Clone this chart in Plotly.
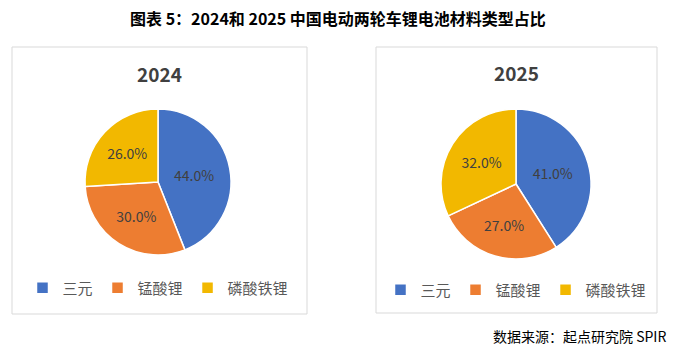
import plotly.graph_objects as go

title_text = "图表 5：2024和 2025 中国电动两轮车锂电池材料类型占比"
years = ["2024", "2025"]
categories = ["三元", "锰酸锂", "磷酸铁锂"]
values_2024 = [44.0, 30.0, 26.0]
values_2025 = [41.0, 27.0, 32.0]
colors = ["#4472C4", "#ED7D31", "#F2B800"]
source_text = "数据来源：起点研究院 SPIR"

W, H = 676, 355
FONT = "Noto Sans CJK SC"

def px_x(x):
    return x / W

def px_y(y):
    return 1 - y / H

fig = go.Figure()

pies = [
    (years[0], values_2024, "legend", (85, 231), (109, 255)),
    (years[1], values_2025, "legend2", (441, 591), (109, 259)),
]
for year, vals, leg, (x0, x1), (y0, y1) in pies:
    fig.add_trace(go.Pie(
        name=year,
        labels=categories,
        values=vals,
        sort=False,
        direction="clockwise",
        rotation=0,
        marker=dict(colors=colors, line=dict(color="white", width=1.5)),
        texttemplate="%{value:.1f}%",
        textposition="inside",
        insidetextorientation="horizontal",
        textfont=dict(family=FONT, size=14, color="#404040"),
        hoverinfo="label+value",
        domain=dict(x=[px_x(x0), px_x(x1)], y=[px_y(y1), px_y(y0)]),
        legend=leg,
        legendgroup="g" + year,
    ))

legend_common = dict(
    orientation="h",
    traceorder="normal",
    font=dict(family=FONT, size=15, color="#595959"),
    xanchor="center",
    yanchor="middle",
    itemwidth=30,
    tracegroupgap=0,
    bgcolor="rgba(0,0,0,0)",
)

shapes = [
    dict(type="rect", xref="paper", yref="paper",
         x0=px_x(12), x1=px_x(307), y0=px_y(314), y1=px_y(47),
         line=dict(color="#D9D9D9", width=1), fillcolor="rgba(0,0,0,0)"),
    dict(type="rect", xref="paper", yref="paper",
         x0=px_x(376), x1=px_x(657), y0=px_y(313), y1=px_y(47),
         line=dict(color="#D9D9D9", width=1), fillcolor="rgba(0,0,0,0)"),
]

annotations = [
    dict(text=title_text, x=0.5, y=px_y(18), xref="paper", yref="paper",
         showarrow=False, xanchor="center", yanchor="middle",
         font=dict(family=FONT, size=16, color="#000000", weight="bold")),
    dict(text=years[0], x=px_x(159), y=px_y(74), xref="paper", yref="paper",
         showarrow=False, xanchor="center", yanchor="middle",
         font=dict(family=FONT, size=19, color="#404040", weight="bold")),
    dict(text=years[1], x=px_x(516), y=px_y(73), xref="paper", yref="paper",
         showarrow=False, xanchor="center", yanchor="middle",
         font=dict(family=FONT, size=19, color="#404040", weight="bold")),
    dict(text=source_text, x=px_x(668), y=px_y(336), xref="paper", yref="paper",
         showarrow=False, xanchor="right", yanchor="middle",
         font=dict(family=FONT, size=14, color="#000000")),
]

fig.update_layout(
    width=W, height=H,
    margin=dict(l=0, r=0, t=0, b=0, autoexpand=False),
    paper_bgcolor="white",
    plot_bgcolor="white",
    showlegend=True,
    legend=dict(x=px_x(158), y=px_y(288), **legend_common),
    legend2=dict(x=px_x(516), y=px_y(290), **legend_common),
    shapes=shapes,
    annotations=annotations,
)

fig.write_html(
    "out.html",
    config={"displayModeBar": False},
    post_script="document.body.style.margin='0';document.body.style.overflow='hidden';",
)
